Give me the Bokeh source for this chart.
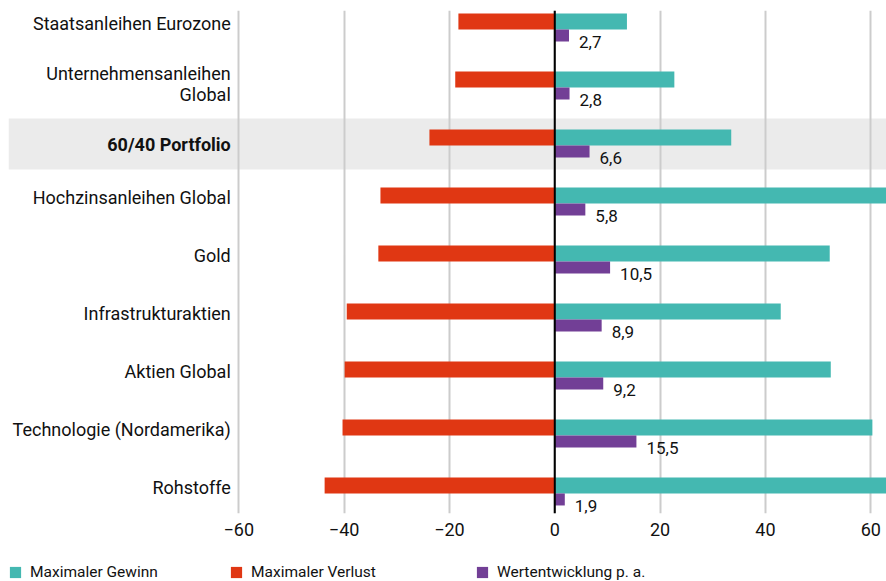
import numpy as np
from bokeh.plotting import figure
from bokeh.layouts import column
from bokeh.models import (ColumnDataSource, Range1d, FixedTicker, Span, BoxAnnotation,
                          Legend, LegendItem)
from bokeh.core.properties import value
from bokeh.embed import file_html
from bokeh.resources import INLINE

categories = ["Staatsanleihen Eurozone", "Unternehmensanleihen\nGlobal", "60/40 Portfolio",
              "Hochzinsanleihen Global", "Gold", "Infrastrukturaktien", "Aktien Global",
              "Technologie (Nordamerika)", "Rohstoffe"]
max_gain = [13.7, 22.7, 33.5, 68.0, 52.2, 42.9, 52.4, 60.3, 70.0]
max_loss = [-18.3, -18.9, -23.8, -33.1, -33.5, -39.5, -39.9, -40.3, -43.7]
performance = [2.7, 2.8, 6.6, 5.8, 10.5, 8.9, 9.2, 15.5, 1.9]
perf_labels = ["2,7", "2,8", "6,6", "5,8", "10,5", "8,9", "9,2", "15,5", "1,9"]
highlight = "60/40 Portfolio"
x_ticks = [-60, -40, -20, 0, 20, 40, 60]
x_tick_labels = {-60: "\u221260", -40: "\u221240", -20: "\u221220", 0: "0", 20: "20", 40: "40", 60: "60"}
legend_labels = ["Maximaler Gewinn", "Maximaler Verlust", "Wertentwicklung p. a."]

TEAL = "#44b8b1"
RED = "#e03713"
PURPLE = "#723f96"
FONT = "Roboto"
TXT = "#111111"

idx = np.arange(len(categories))
is_hi = np.array([c == highlight for c in categories])
is_multi = np.array(["\n" in c for c in categories])
cat_shift = np.where(is_hi, 0.0, np.where(is_multi, 0.035, 0.07))
src = ColumnDataSource(dict(
    cat=categories, y=idx, gain=max_gain, loss=max_loss, perf=performance,
    plabel=perf_labels,
    y_main=idx - 0.112, y_perf=idx + 0.129, y_plabel=idx + 0.24,
    y_cat=idx - cat_shift,
    style=["bold" if h else "normal" for h in is_hi],
))

p = figure(width=886, height=550, output_backend="svg", toolbar_location=None,
           x_range=Range1d(-103.72, 62.98), y_range=Range1d(8.371, -0.302),
           min_border_left=8, min_border_right=0, min_border_top=10, min_border_bottom=37)
p.outline_line_color = None
p.background_fill_color = "white"

hi = categories.index(highlight)
band = BoxAnnotation(top=hi - 0.44, bottom=hi + 0.44, fill_color="#ebebeb", fill_alpha=1,
                     line_color=None, level="image")
p.add_layout(band)

p.hbar(y="y_main", left=0, right="gain", height=0.276, source=src,
       fill_color=TEAL, line_color=None)
p.hbar(y="y_main", left="loss", right=0, height=0.276, source=src,
       fill_color=RED, line_color=None)
p.hbar(y="y_perf", left=0, right="perf", height=0.207, source=src,
       fill_color=PURPLE, line_color=None)

p.add_layout(Span(location=0, dimension="height", line_color="black", line_width=2))

p.text(x="perf", y="y_plabel", text="plabel", source=src, x_offset=10,
       text_align="left", text_baseline="middle", text_font=value(FONT),
       text_font_size="17px", text_color=TXT)

p.text(x=-60, y="y_cat", text="cat", source=src, x_offset=-8,
       text_align="right", text_baseline="middle", text_font=value(FONT),
       text_font_size="18px", text_color=TXT, text_font_style="style",
       text_line_height=1.0)

p.xaxis.ticker = FixedTicker(ticks=x_ticks)
p.xaxis.major_label_overrides = x_tick_labels
p.xaxis.axis_line_color = None
p.xaxis.major_tick_line_color = None
p.xaxis.minor_tick_line_color = None
p.xaxis.major_tick_out = 0
p.xaxis.major_tick_in = 0
p.xaxis.minor_tick_out = 0
p.xaxis.major_label_standoff = 9
p.xaxis.major_label_text_font = FONT
p.xaxis.major_label_text_font_size = "18px"
p.xaxis.major_label_text_color = TXT
p.yaxis.visible = False
p.ygrid.grid_line_color = None
p.xgrid.grid_line_color = "#cccccc"
p.xgrid.grid_line_width = 2

# legend strip
lf = figure(width=886, height=31, output_backend="svg", toolbar_location=None,
            x_range=Range1d(0, 1), y_range=Range1d(0, 1),
            min_border_left=0, min_border_right=0, min_border_top=0, min_border_bottom=0)
lf.outline_line_color = None
lf.axis.visible = False
lf.grid.visible = False
for lab, col, xloc in zip(legend_labels, [TEAL, RED, PURPLE], [0, 221, 467]):
    r = lf.hbar(y=[-10], left=[0], right=[0.5], height=1, fill_color=col, line_color=None)
    lg = Legend(items=[LegendItem(label=lab, renderers=[r])], location=(xloc, 0),
                orientation="horizontal", glyph_width=14, glyph_height=14, label_standoff=8,
                padding=0, margin=0, spacing=0, border_line_alpha=0, background_fill_alpha=0,
                label_text_font=FONT, label_text_font_size="15.5px", label_height=14,
                label_text_color=TXT)
    lf.add_layout(lg, "center")

open("out.html", "w").write(file_html(column(p, lf, spacing=0), INLINE))
